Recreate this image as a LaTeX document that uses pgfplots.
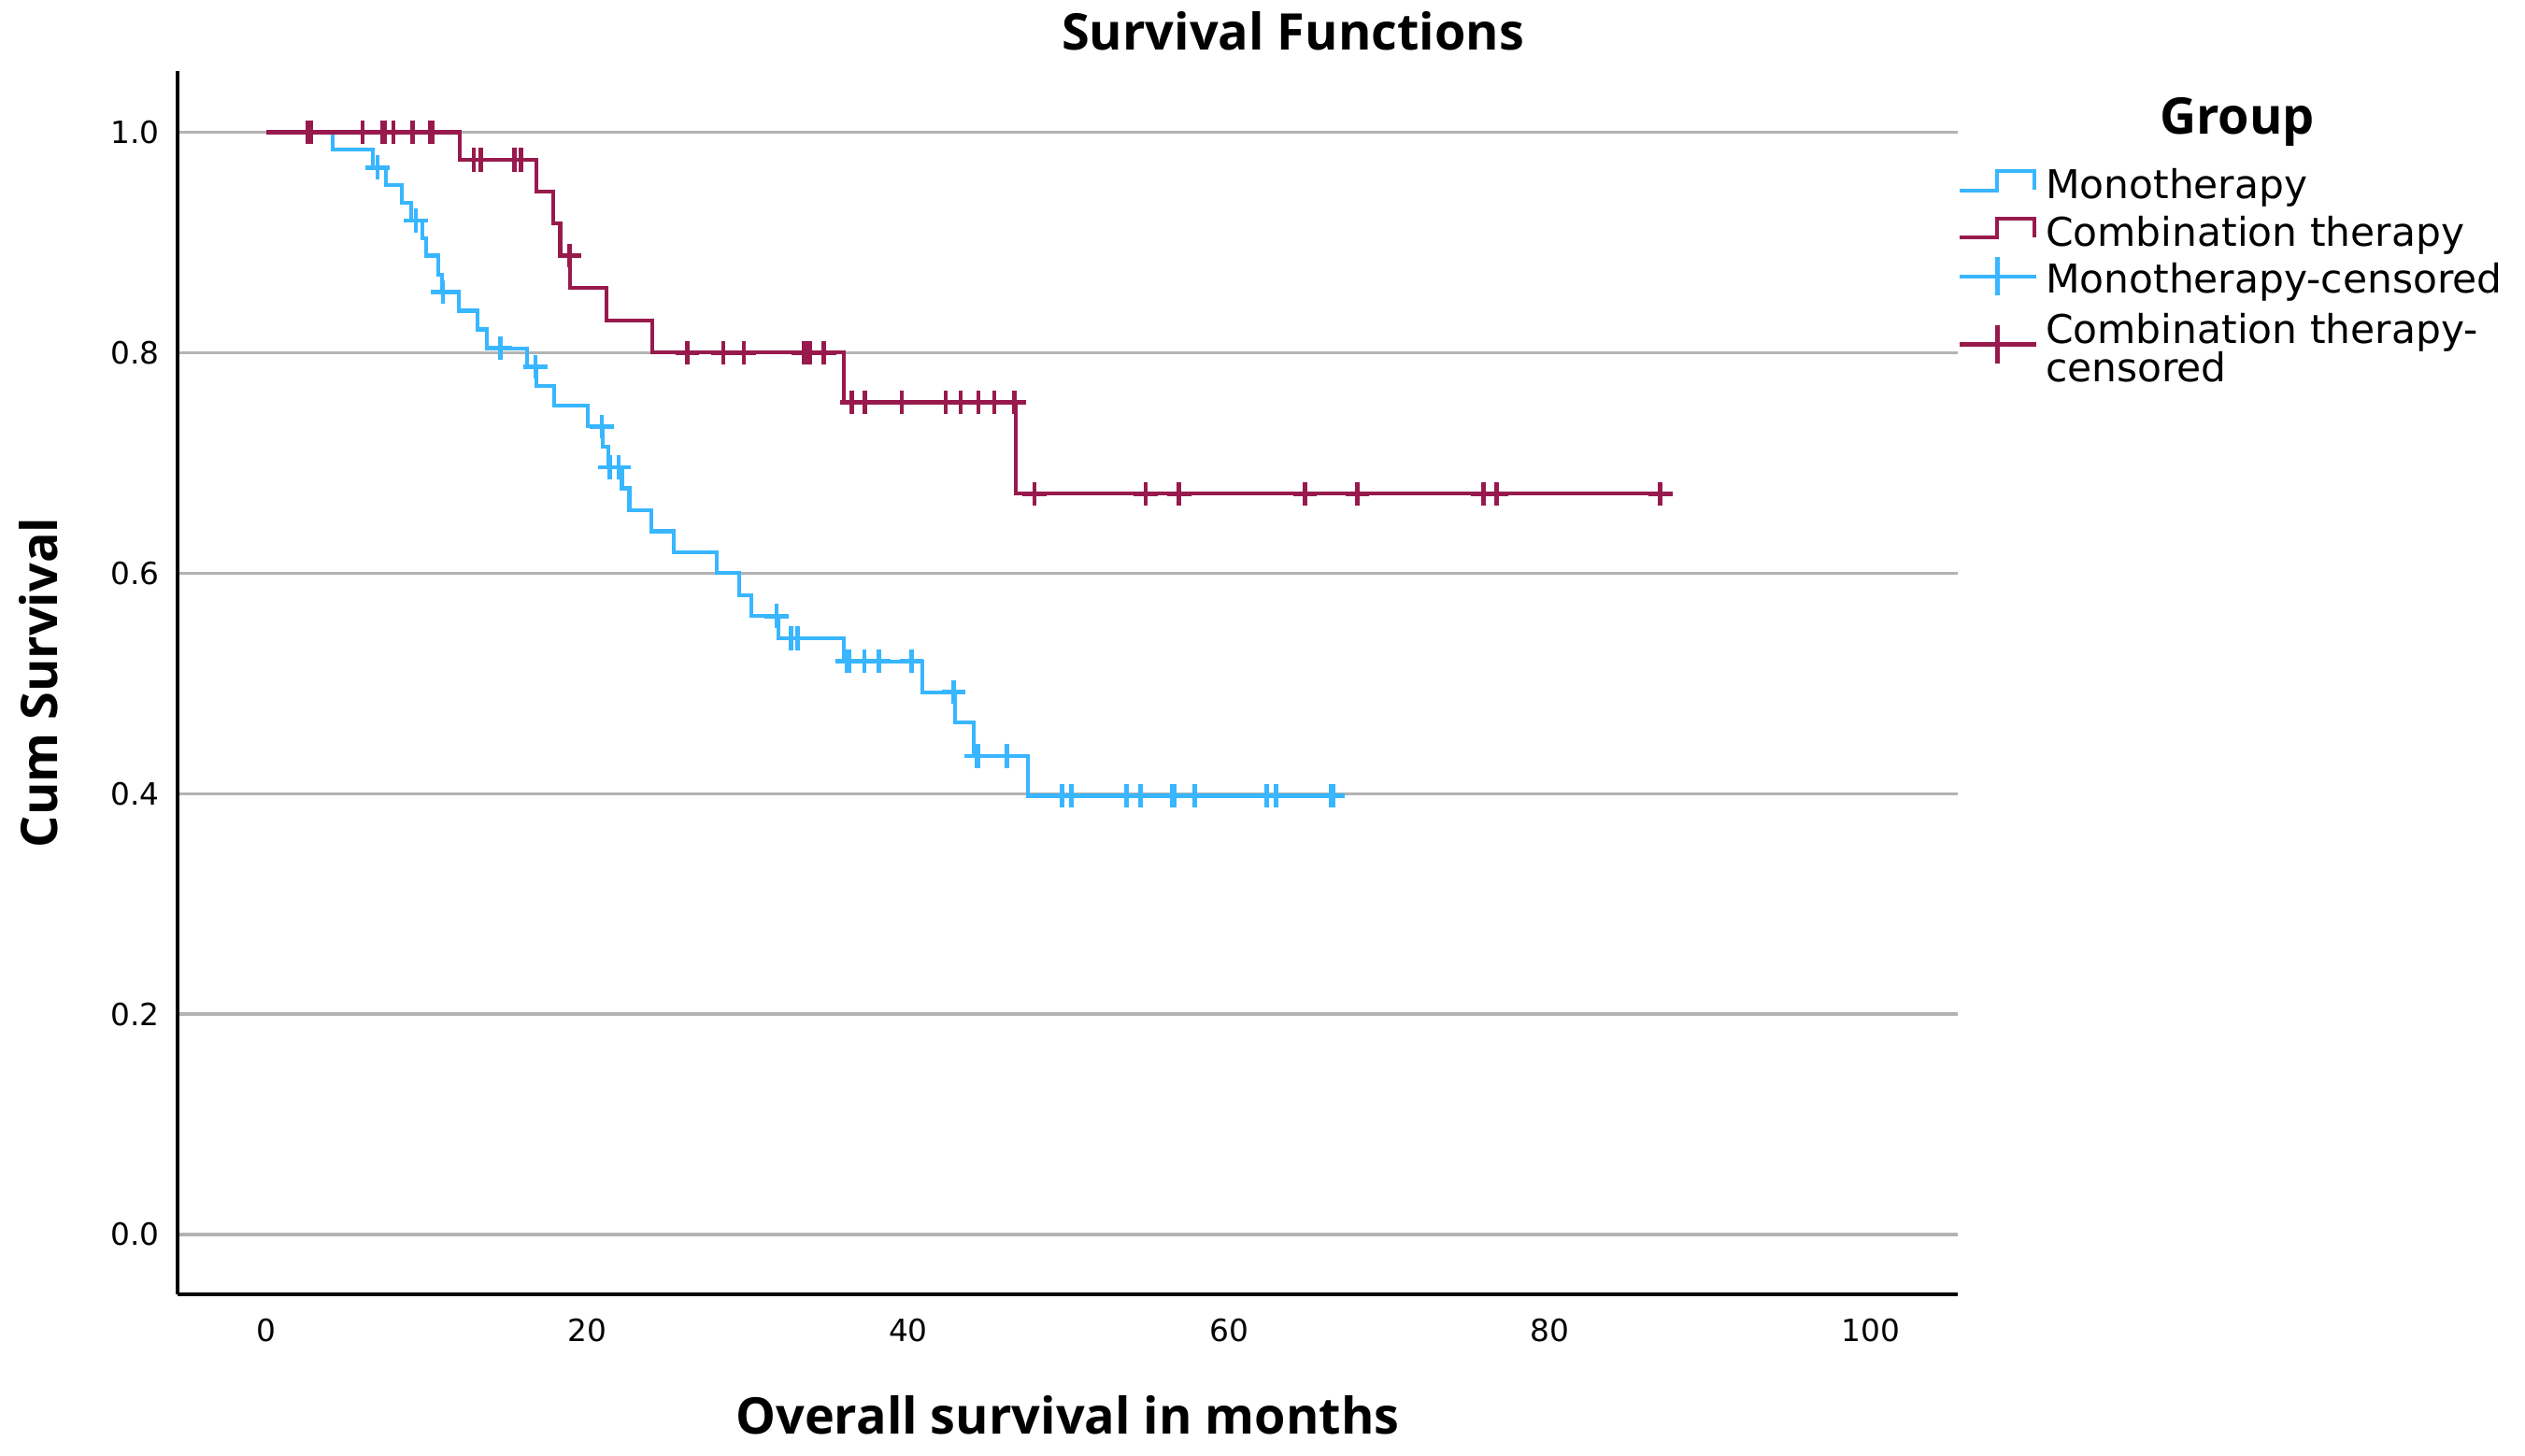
\documentclass[border=0pt]{standalone}
\usepackage{fontspec}
\setmainfont{DejaVu Sans}
\newfontfamily\labelfont{Open Sans}
\usepackage{pgfplots}
\usepackage{pgfplotstable}
\pgfplotsset{compat=1.18}

\definecolor{monoblue}{RGB}{56,182,255}
\definecolor{combred}{RGB}{152,26,77}
\definecolor{gridgray}{RGB}{179,179,179}

% legend symbols: small step for the curves, cross for the censored marks
\pgfplotsset{
    monoleg/.style={legend image code/.code={
        \path[draw=none] (0pt,0pt) (20pt,0pt);
        \draw[overlay,##1] (0pt,2pt) -- (10pt,2pt) -- (10pt,7.2pt) -- (20pt,7.2pt) -- (20pt,2.2pt);
    }},
    combleg/.style={legend image code/.code={
        \path[draw=none] (0pt,0pt) (20pt,0pt);
        \draw[overlay,##1] (0pt,2.25pt) -- (10pt,2.25pt) -- (10pt,7.25pt) -- (20pt,7.25pt) -- (20pt,2.25pt);
    }},
    monocensleg/.style={legend image code/.code={
        \path[draw=none] (0pt,0pt) (20pt,0pt);
        \draw[overlay,##1] (0pt,4.3pt) -- (20.5pt,4.3pt) (10.25pt,-0.75pt) -- (10.25pt,9.5pt);
    }},
    combcensleg/.style={legend image code/.code={
        \path[draw=none] (0pt,0pt) (20pt,0pt);
        \draw[overlay,##1] (0pt,-0.3pt) -- (20.5pt,-0.3pt) (10.25pt,-5.5pt) -- (10.25pt,4.75pt);
    }},
}

% Kaplan-Meier steps: time, cumulative survival after the event
\pgfplotstableread{
t s
0 1
4.14 0.984
6.66 0.968
7.44 0.952
8.44 0.936
9.03 0.920
9.73 0.904
9.96 0.888
10.73 0.871
10.94 0.855
12.01 0.838
13.14 0.821
13.73 0.804
16.23 0.787
16.85 0.770
17.96 0.752
20.03 0.733
20.98 0.715
21.3 0.696
22.16 0.677
22.62 0.657
24.0 0.638
25.38 0.619
28.05 0.600
29.47 0.580
30.21 0.561
31.92 0.541
36.0 0.520
40.87 0.492
42.91 0.4645
44.1 0.434
47.44 0.398
66.7 0.398
}\monostep

\pgfplotstableread{
t s
6.93 0.968
9.31 0.920
11.0 0.855
14.6 0.804
16.78 0.787
20.9 0.733
21.41 0.696
21.96 0.696
31.8 0.561
32.7 0.541
33.1 0.541
36.2 0.520
36.34 0.520
37.27 0.520
38.16 0.520
40.2 0.520
42.84 0.492
44.25 0.434
44.36 0.434
46.14 0.434
49.6 0.398
50.16 0.398
53.62 0.398
54.48 0.398
56.47 0.398
56.61 0.398
57.87 0.398
62.35 0.398
62.92 0.398
66.37 0.398
66.48 0.398
}\monocens

\pgfplotstableread{
t s
0 1
12.04 0.975
16.85 0.946
17.88 0.9175
18.31 0.888
18.93 0.859
21.22 0.829
24.05 0.800
36.0 0.755
46.7 0.672
87.2 0.672
}\combstep

\pgfplotstableread{
t s
2.6 1
2.8 1
6.0 1
7.26 1
7.4 1
7.92 1
9.13 1
10.19 1
10.35 1
12.93 0.975
13.38 0.975
15.46 0.975
15.88 0.975
18.9 0.888
26.24 0.8
28.47 0.8
29.75 0.8
33.5 0.8
33.65 0.8
33.9 0.8
34.75 0.8
36.5 0.755
37.3 0.755
39.6 0.755
42.34 0.755
43.27 0.755
44.38 0.755
45.36 0.755
46.6 0.755
47.87 0.672
54.79 0.672
56.88 0.672
64.72 0.672
67.99 0.672
75.83 0.672
76.65 0.672
86.87 0.672
}\combcens

\begin{document}
\begin{tikzpicture}
\path[use as bounding box] (-47.5pt,-43pt) rectangle (628pt,346.25pt);
\begin{axis}[
    at={(0,0)}, anchor=south west,
    scale only axis,
    width=476.25pt, height=327.25pt,
    xmin=-5.53, xmax=105.4,
    ymin=-0.0543, ymax=1.0555,
    axis x line=bottom, axis y line=left,
    axis line style={-, line width=1pt, black},
    major tick length=0pt,
    xtick={0,20,40,60,80,100},
    ytick={0,0.2,0.4,0.6,0.8,1},
    ymajorgrids=true,
    grid style={line width=0.8pt, gridgray},
    /pgf/number format/assume math mode=true,
    ticklabel style={font=\fontsize{8.2}{9}\selectfont},
    yticklabel style={/pgf/number format/.cd, fixed, fixed zerofill, precision=1,
        /tikz/.cd, anchor=east, inner sep=0pt, xshift=-4.6pt},
    xticklabel style={anchor=center, inner sep=0pt, yshift=-9.75pt},
    xlabel={Overall survival in months},
    ylabel={Cum Survival},
    label style={font=\labelfont\bfseries\fontsize{13.5}{16}\selectfont, inner sep=0pt},
    xlabel style={at={(axis description cs:0.5,-0.0985)}, anchor=center},
    ylabel style={at={(axis description cs:-0.0779,0.5)}, anchor=center},
    legend style={
        at={(axis description cs:1,1)}, anchor=north west,
        xshift=0.4pt, yshift=-24.5pt,
        draw=none, fill=none, inner sep=0pt, outer sep=0pt,
        row sep=0pt, column sep=3.1pt,
        font=\fontsize{10.6}{12}\selectfont,
        nodes={inner sep=0pt, outer sep=0pt},
        cells={anchor=base west},
    },
]

\addplot[const plot, monoblue, line width=1.05pt, monoleg] table[x=t, y=s] {\monostep};
\addlegendentry[text height=9.5pt, text depth=3.25pt]{Monotherapy}

\addplot[const plot, combred, line width=1.05pt, combleg] table[x=t, y=s] {\combstep};
\addlegendentry[text height=9.5pt, text depth=3pt]{Combination therapy}

\addplot[only marks, mark=+, mark size=3.2pt, monoblue, line width=1.15pt, monocensleg]
    table[x=t, y=s] {\monocens};
\addlegendentry[text height=9.5pt, text depth=4pt]{Monotherapy-censored}

\addplot[only marks, mark=+, mark size=3.2pt, combred, line width=1.15pt, combcensleg]
    table[x=t, y=s] {\combcens};
\addlegendentry[text height=9.5pt, text depth=0.75pt]{Combination therapy-}

\addlegendimage{empty legend}
\addlegendentry[text height=9.5pt, text depth=0pt]{censored}

\end{axis}
\node[font=\labelfont\bfseries\fontsize{13.5}{16}\selectfont, inner sep=0pt, anchor=center]
    at (298.4pt,337.9pt) {Survival Functions};
\node[font=\labelfont\bfseries\fontsize{13.5}{16}\selectfont, inner sep=0pt, anchor=base]
    at (551pt,310.4pt) {Group};
\end{tikzpicture}
\end{document}
